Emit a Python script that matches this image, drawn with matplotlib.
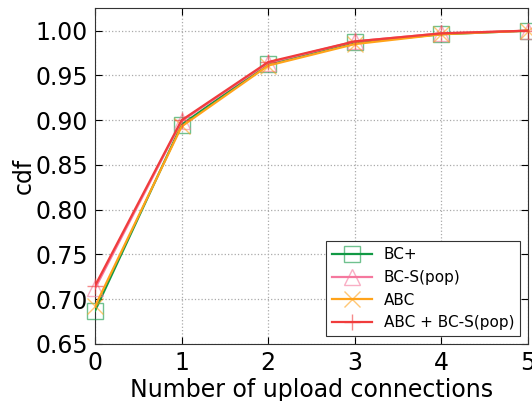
import matplotlib
matplotlib.use("Agg")
import matplotlib.pyplot as plt
from matplotlib.lines import Line2D

x = [0, 1, 2, 3, 4, 5]
series_names = ["BC+", "BC-S(pop)", "ABC", "ABC + BC-S(pop)"]
bc_plus = [0.687, 0.895, 0.963, 0.987, 0.996, 1.000]
bc_s_pop = [0.712, 0.899, 0.964, 0.988, 0.997, 1.000]
abc = [0.692, 0.893, 0.961, 0.985, 0.996, 1.000]
abc_bc_s = [0.715, 0.900, 0.965, 0.988, 0.997, 1.000]
xticks = [0, 1, 2, 3, 4, 5]
yticks = [0.65, 0.70, 0.75, 0.80, 0.85, 0.90, 0.95, 1.00]

colors = ["#119944", "#f5789e", "#ffa31a", "#f03c3c"]
markers = ["s", "^", "x", "+"]
data = [bc_plus, bc_s_pop, abc, abc_bc_s]

fig = plt.figure(figsize=(5.32, 4.01), dpi=100)
ax = fig.add_axes([95/532, 1-344/401, (528-95)/532, (344-8.3)/401])

for name, ys, c, m in zip(series_names, data, colors, markers):
    ax.plot(x, ys, color=c, linewidth=1.6, label=name, zorder=3)
    ax.plot(x, ys, linestyle="none", marker=m, markersize=12,
            markerfacecolor="none", markeredgecolor=c, markeredgewidth=1.0,
            alpha=0.6, zorder=3, clip_on=False)

handles = [Line2D([], [], color=c, linewidth=1.6, marker=m, markersize=12,
                  markerfacecolor="none", markeredgecolor=c + "99")
           for c, m in zip(colors, markers)]
leg = ax.legend(handles, series_names, loc="lower right", fontsize=11,
                fancybox=False, framealpha=1, edgecolor="#333333",
                borderaxespad=0.5, handlelength=2.6, labelspacing=0.5)
leg.get_frame().set_linewidth(0.8)

ax.set_xlim(0, 5)
ax.set_ylim(0.65, 1.025)
ax.set_xticks(xticks)
ax.set_yticks(yticks)
ax.set_yticklabels([f"{v:.2f}" for v in yticks])
ax.tick_params(direction="in", labelsize=17, length=5, top=True, right=True, pad=5)
ax.grid(True, linestyle=":", color="#aaaaaa", linewidth=0.9)
ax.set_axisbelow(True)
ax.set_xlabel("Number of upload connections", fontsize=17, labelpad=2)
ax.set_ylabel("cdf", fontsize=17, labelpad=0)
for s in ax.spines.values():
    s.set_color("#333333")

fig.savefig("out.png", dpi=100)
